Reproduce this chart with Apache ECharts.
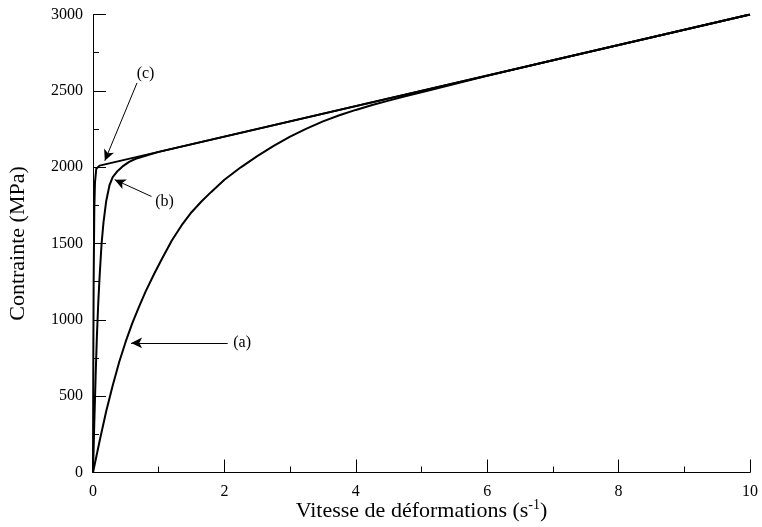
<!DOCTYPE html>
<html>
<head>
<meta charset="utf-8">
<script src="https://cdn.jsdelivr.net/npm/echarts@6/dist/echarts.min.js"></script>
<style>
  html, body { margin: 0; padding: 0; background: #fff; }
  #chart { width: 762px; height: 527px; }
</style>
</head>
<body>
<div id="chart"></div>
<script>
// Strain rate (s^-1) and stress (MPa) for the three responses
const rateA   = [0, 0.1, 0.2, 0.3, 0.4, 0.5, 0.6, 0.7, 0.8, 0.93, 1.05, 1.2, 1.35, 1.5, 1.65, 1.8, 2.0, 2.25, 2.5, 2.75, 3.0, 3.25, 3.5, 3.75, 4.0, 4.25, 4.5, 4.75, 5.0, 5.5, 6.0, 7.0, 8.0, 10];
const stressA = [0, 205, 400, 570, 725, 860, 980, 1085, 1185, 1300, 1400, 1520, 1620, 1705, 1775, 1838, 1918, 1999, 2072, 2139, 2200, 2253, 2300, 2340, 2375, 2407, 2436, 2464, 2491, 2545, 2598, 2700, 2800, 3000];

const rateB   = [0, 0.02, 0.04, 0.06, 0.08, 0.1, 0.13, 0.16, 0.2, 0.25, 0.3, 0.375, 0.45, 0.55, 0.65, 0.8, 1.0, 10];
const stressB = [0, 330, 630, 900, 1110, 1280, 1495, 1640, 1775, 1880, 1935, 1975, 2005, 2035, 2055, 2075, 2100, 3000];

const rateC   = [0, 0.005, 0.01, 0.02, 0.03, 0.05, 0.1, 10];
const stressC = [0, 790, 1265, 1730, 1900, 1990, 2010, 3000];

// Curve tags and their arrows: [label x, label y, tail x, tail y, head x, head y]
const tagNames = ['(a)', '(b)', '(c)'];
const tagGeom = [
  [2.27, 849, 2.05, 849, 0.58, 849],
  [1.09, 1775, 0.89, 1808, 0.33, 1918],
  [0.80, 2613, 0.67, 2552, 0.18, 2042]
];

const xTicks = [0, 2, 4, 6, 8, 10];
const yTicks = [0, 500, 1000, 1500, 2000, 2500, 3000];

const FONT = '"Liberation Serif", "Times New Roman", serif';
const zip = (xs, ys) => xs.map((x, i) => [x, ys[i]]);

const curveStyle = { color: '#000', width: 2 };

const chart = echarts.init(document.getElementById('chart'), null, { renderer: 'canvas' });

const axisCommon = {
  axisLine: { show: true, onZero: false, lineStyle: { color: '#000', width: 1 } },
  axisTick: { show: true, inside: true, length: 13, lineStyle: { color: '#000', width: 1 } },
  minorTick: { show: true, splitNumber: 2, length: 6, lineStyle: { color: '#000', width: 1 } },
  splitLine: { show: false },
  axisLabel: { color: '#000', fontFamily: FONT, fontSize: 16, formatter: v => String(v) }
};

chart.setOption({
  animation: false,
  backgroundColor: '#fff',
  grid: { left: 93, right: 12, top: 14.5, bottom: 54.5, containLabel: false, outerBoundsMode: 'none' },
  xAxis: Object.assign({}, axisCommon, {
    type: 'value',
    min: xTicks[0],
    max: xTicks[xTicks.length - 1],
    interval: 2,
    name: '{t|Vitesse de déformations (s}{s|-1}{t|)}',
    nameLocation: 'middle',
    nameGap: 26,
    nameMoveOverlap: false,
    nameTextStyle: {
      rich: {
        t: { fontFamily: FONT, fontSize: 22, color: '#000', lineHeight: 24, verticalAlign: 'bottom' },
        s: { fontFamily: FONT, fontSize: 14, color: '#000', lineHeight: 24, verticalAlign: 'top', padding: [0, 0, 6, 0] }
      }
    },
    axisLabel: Object.assign({}, axisCommon.axisLabel, { margin: 11 })
  }),
  yAxis: Object.assign({}, axisCommon, {
    type: 'value',
    min: yTicks[0],
    max: yTicks[yTicks.length - 1],
    interval: 500,
    name: 'Contrainte (MPa)',
    nameLocation: 'middle',
    nameGap: 64,
    nameMoveOverlap: false,
    nameRotate: 90,
    nameTextStyle: { fontFamily: FONT, fontSize: 22, color: '#000' },
    axisLabel: Object.assign({}, axisCommon.axisLabel, { margin: 10 })
  }),
  series: [
    {
      name: 'a', type: 'line', data: zip(rateA, stressA),
      showSymbol: false, smooth: false,
      lineStyle: curveStyle, z: 3
    },
    {
      name: 'b', type: 'line', data: zip(rateB, stressB),
      showSymbol: false, smooth: false,
      lineStyle: curveStyle, z: 3
    },
    {
      name: 'c', type: 'line', data: zip(rateC, stressC),
      showSymbol: false, smooth: false,
      lineStyle: curveStyle, z: 3
    },
    {
      // arrows pointing at each curve
      name: 'arrows', type: 'line', data: [],
      markLine: {
        silent: true,
        animation: false,
        symbol: ['none', 'arrow'],
        symbolSize: [8, 11],
        label: { show: false },
        lineStyle: { color: '#000', width: 1, type: 'solid' },
        emphasis: { disabled: true },
        data: tagGeom.map(g => [
          { coord: [g[2], g[3]] },
          { coord: [g[4], g[5]] }
        ])
      }
    },
    {
      // curve tags
      name: 'tags', type: 'scatter', symbolSize: 1,
      itemStyle: { color: 'rgba(0,0,0,0)' },
      data: tagGeom.map((g, i) => ({ value: [g[0], g[1]], name: tagNames[i] })),
      label: {
        show: true, position: 'inside', formatter: p => p.name,
        color: '#000', opacity: 1, textBorderWidth: 0,
        fontFamily: FONT, fontSize: 16
      },
      silent: true
    }
  ]
});
</script>
</body>
</html>
